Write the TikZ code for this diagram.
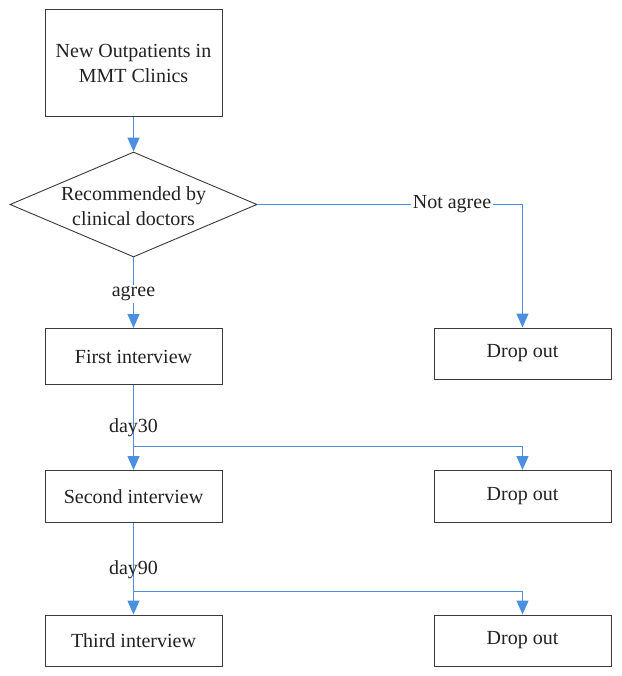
\documentclass[tikz,border=0pt]{standalone}
\usepackage{fontspec}
\setmainfont{Liberation Serif}
\usetikzlibrary{arrows.meta,shapes.geometric}
\definecolor{flowblue}{HTML}{4A8FE0}
\definecolor{boxgray}{HTML}{3A3A3A}
\definecolor{txtgray}{HTML}{222222}
\begin{document}
\begin{tikzpicture}[x=1pt,y=-1pt,
  every node/.style={font=\fontsize{20}{24.5}\selectfont, text=txtgray},
  box/.style={draw=boxgray, line width=1pt, rectangle, minimum width=177pt, inner sep=0pt, align=center},
  dia/.style={draw=boxgray, line width=0.9pt, diamond, minimum width=247pt, minimum height=105pt, inner sep=0pt},
  lbl/.style={inner sep=1.5pt},
  flow/.style={draw=flowblue, line width=1.3pt},
  arr/.style={flow, -{Triangle[width=12pt,length=14pt]}}
]
\useasboundingbox (0,0) rectangle (621,676);
\fill[white] (0,0) rectangle (621,676);

\node[box, minimum height=107pt] (start) at (133.5,63.5) {New Outpatients in\\MMT Clinics};
\node[dia] (dec) at (133.5,204.5) {};
\node[align=center, inner sep=0pt] (dectext) at (133.5,206) {Recommended by\\clinical doctors};
\node[box, minimum height=56pt] (first) at (133.5,356.5) {First interview};
\node[box, minimum height=51pt] (drop1) at (522.5,353.5) {Drop out};
\node[box, minimum height=52pt] (second) at (133.5,496.5) {Second interview};
\node[box, minimum height=52pt] (drop2) at (522.5,496.5) {Drop out};
\node[box, minimum height=51pt] (third) at (133.5,640.5) {Third interview};
\node[box, minimum height=51pt] (drop3) at (522.5,640.5) {Drop out};

\coordinate (b1) at (133.5,446.5);
\coordinate (b2) at (133.5,591.5);

% connectors
\draw[arr] (start.south) -- (dec.north);
\draw[arr] (dec.south) -- (first.north);
\draw[arr] (dec.east) -| (drop1.north);
\draw[arr] (first.south) -- (second.north);
\draw[arr] (b1) -| (drop2.north);
\draw[arr] (second.south) -- (third.north);
\draw[arr] (b2) -| (drop3.north);

% labels
\node[lbl, fill=white] (agree) at (133.5,294) {agree};
\node[lbl, fill=white] (notagree) at (452,204.5) {Not agree};
\node[lbl] (day30) at (133.5,428) {day30};
\node[lbl] (day90) at (133.5,570) {day90};
\end{tikzpicture}
\end{document}
